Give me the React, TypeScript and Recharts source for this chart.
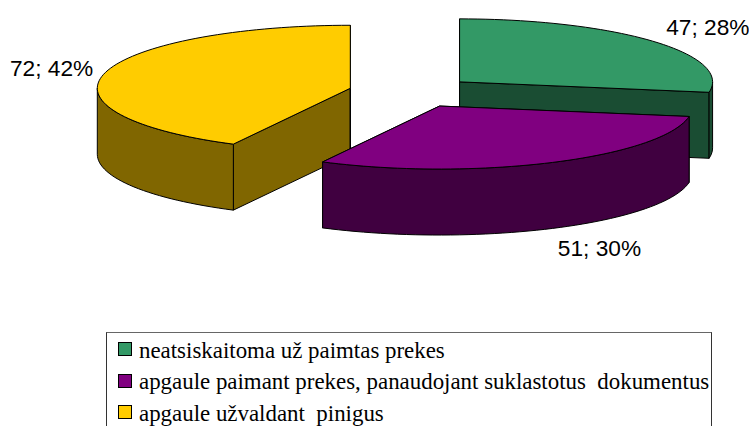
import React from 'react';
import { PieChart, Pie, Legend } from 'recharts';

const categories = [
  'neatsiskaitoma už paimtas prekes',
  'apgaule paimant prekes, panaudojant suklastotus  dokumentus',
  'apgaule užvaldant  pinigus',
];
const values = [47, 51, 72];
const topColors = ['#339966', '#800080', '#FFCC00'];
const sideColors = ['#1A4D33', '#400040', '#806600'];

// painter's order: yellow at the back, purple in front
const drawOrder = [2, 0, 1];

const total = values.reduce((a, b) => a + b, 0);
const pieData = drawOrder.map(i => ({
  name: categories[i],
  value: values[i],
  index: i,
}));

// green slice has to start at 12 o'clock, so back up by the yellow share
const startAngle = 90 + (values[2] / total) * 360;

const SQUASH = 0.249;
const DEPTH = 66;
const EXPLODE = 63;
const RAD = Math.PI / 180;

const center = (cx: number, cy: number, mid: number) => ({
  x: cx + EXPLODE * Math.cos(mid * RAD),
  y: cy - EXPLODE * Math.sin(mid * RAD) * SQUASH,
});

const rim = (c: { x: number; y: number }, r: number, a: number, drop = 0) => ({
  x: c.x + r * Math.cos(a * RAD),
  y: c.y - r * Math.sin(a * RAD) * SQUASH + drop,
});

const arcPoints = (c: { x: number; y: number }, r: number, from: number, to: number, drop = 0) => {
  const pts = [];
  const n = Math.max(1, Math.ceil(Math.abs(to - from) / 2));
  for (let k = 0; k <= n; k++) {
    pts.push(rim(c, r, from + ((to - from) * k) / n, drop));
  }
  return pts;
};

const toPath = (pts: { x: number; y: number }[]) =>
  'M' + pts.map(p => `${p.x.toFixed(2)},${p.y.toFixed(2)}`).join('L') + 'Z';

const Slice3D = (props: any) => {
  const { cx, cy, outerRadius, startAngle: sa, endAngle: ea, payload } = props;
  const idx = payload.index;
  const lo = Math.min(sa, ea);
  const hi = Math.max(sa, ea);
  const c = center(cx, cy, (lo + hi) / 2);
  const line = { stroke: '#000', strokeWidth: 1, strokeLinejoin: 'round' as const };

  const plane = (a: number) => {
    const p = rim(c, outerRadius, a);
    return toPath([c, p, { x: p.x, y: p.y + DEPTH }, { x: c.x, y: c.y + DEPTH }]);
  };

  // only the part of the rim facing the viewer gets a wall
  const walls: string[] = [];
  [[-180, 0], [180, 360]].forEach(([a, b]) => {
    const from = Math.max(lo, a);
    const to = Math.min(hi, b);
    if (to > from) {
      walls.push(toPath([...arcPoints(c, outerRadius, from, to), ...arcPoints(c, outerRadius, to, from, DEPTH)]));
    }
  });

  return (
    <g>
      <path d={plane(hi)} fill={sideColors[idx]} {...line} />
      <path d={plane(lo)} fill={sideColors[idx]} {...line} />
      {walls.map((d, i) => (
        <path key={i} d={d} fill={sideColors[idx]} {...line} />
      ))}
      <path d={toPath([c, ...arcPoints(c, outerRadius, lo, hi)])} fill={topColors[idx]} {...line} />
    </g>
  );
};

const renderLabel = (props: any) => {
  const { cx, cy, midAngle, outerRadius, value, percent } = props;
  const c = center(cx, cy, midAngle);
  const s = Math.sin(midAngle * RAD);
  const cos = Math.cos(midAngle * RAD);
  const p = rim(c, outerRadius, midAngle, s < 0 ? DEPTH : 0);
  return (
    <text
      x={p.x + (cos > 0 ? 36 + 25 * cos : -53)}
      y={p.y - s * 22}
      textAnchor="middle"
      dominantBaseline="central"
      fontFamily="Liberation Sans"
      fontSize={22.7}
      fill="#000"
    >
      {`${value}; ${Math.round(percent * 100)}%`}
    </text>
  );
};

const LegendBox = () => (
  <div
    style={{
      boxSizing: 'border-box',
      width: 606,
      height: 120,
      borderTop: '1px solid #666',
      borderLeft: '1px solid #333',
      borderRight: '1px solid #333',
      background: '#fff',
      fontFamily: 'Liberation Serif',
      fontSize: 22.9,
      color: '#000',
    }}
  >
    {categories.map((name, i) => (
      <div key={name} style={{ display: 'flex', alignItems: 'center', height: 31.5, marginTop: i === 0 ? 2 : 0, whiteSpace: 'pre' }}>
        <span
          style={{
            boxSizing: 'border-box',
            width: 14,
            height: 14,
            marginLeft: 11,
            marginRight: 7,
            marginTop: -3,
            background: topColors[i],
            border: '1px solid #000',
          }}
        />
        {name}
      </div>
    ))}
  </div>
);

export default function App() {
  return (
    <div style={{ position: 'absolute', left: 0, top: 0, width: 749, height: 426, overflow: 'hidden', background: '#fff' }}>
      <PieChart width={749} height={426} margin={{ top: 0, right: 0, bottom: 0, left: 0 }}>
        <Pie
          data={pieData}
          dataKey="value"
          nameKey="name"
          cx={411.5}
          cy={92}
          outerRadius={253}
          startAngle={startAngle}
          endAngle={startAngle - 360}
          paddingAngle={0}
          shape={Slice3D}
          label={renderLabel}
          labelLine={false}
          isAnimationActive={false}
        />
        <Legend content={<LegendBox />} wrapperStyle={{ left: 106, top: 332, width: 606, height: 120, bottom: 'auto' }} />
      </PieChart>
    </div>
  );
}
